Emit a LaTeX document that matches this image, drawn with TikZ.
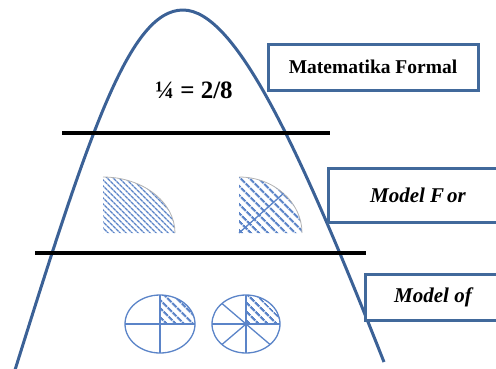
\documentclass[tikz,border=0pt]{standalone}
\usepackage{fontspec}
\setmainfont{Liberation Serif}
\usetikzlibrary{patterns.meta}
\definecolor{curveblue}{HTML}{3B6196}
\definecolor{boxblue}{HTML}{41699B}
\definecolor{partblue}{HTML}{5B84C8}
\tikzset{
  levelbox/.style={draw=boxblue, line width=3pt, fill=white, inner sep=0pt, minimum height=46pt, font=\fontsize{19.5}{22}\selectfont\bfseries},
  partline/.style={draw=partblue, line width=1.3pt},
  fine hatch/.style={pattern={Lines[angle=-45, distance=4pt, line width=1.4pt]}, pattern color=partblue},
  coarse hatch/.style={pattern={Lines[angle=-45, distance=6.5pt, line width=2.4pt]}, pattern color=partblue}
}
\begin{document}
\begin{tikzpicture}[x=1pt, y=-1pt]
\useasboundingbox (0,0) rectangle (496,368);
\clip (0,0) rectangle (496,368);
% bell curve
\draw[curveblue, line width=3pt] (15,370) .. controls (90,130) and (130,10) .. (183,10)
  .. controls (236,10) and (300,150) .. (384,362);
% level separators
\draw[black, line width=3.5pt] (62,133) -- (330,133);
\draw[black, line width=3.5pt] (35,253) -- (366,253);
% level labels
\node[levelbox, minimum width=210pt] (formal) at (373,67) {Matematika Formal};
\node[levelbox, minimum width=180pt, minimum height=54pt, font=\fontsize{21}{24}\selectfont\bfseries\itshape] (modelfor) at (418,195) {Model F\hspace{3pt}or};
\node[levelbox, minimum width=136pt, font=\fontsize{21}{24}\selectfont\bfseries\itshape] (modelof) at (433,297) {Model of};
% formal level
\node[font=\fontsize{25}{28}\selectfont\bfseries] (frac) at (194,90) {¼ = 2/8};
% model for: quarter regions
\fill[fine hatch] (103,233) -- (175,233) arc[start angle=0, end angle=-90, x radius=72, y radius=56] -- cycle;
\draw[gray!60, line width=0.8pt] (175,233) arc[start angle=0, end angle=-90, x radius=72, y radius=56];
\fill[coarse hatch] (239,233) -- (302,233) arc[start angle=0, end angle=-90, x radius=63, y radius=56] -- cycle;
\draw[gray!60, line width=0.8pt] (302,233) arc[start angle=0, end angle=-90, x radius=63, y radius=56];
\draw[partline] (239,233) -- ({239+63*cos(45)},{233-56*sin(45)});
% model of: circles
\fill[coarse hatch] (160,324) -- (195,324) arc[start angle=0, end angle=-90, x radius=35, y radius=29] -- cycle;
\draw[partline] (160,324) ellipse[x radius=35, y radius=29];
\draw[partline] (160,295) -- (160,353);
\draw[partline] (125,324) -- (195,324);
\fill[coarse hatch] (246,324) -- (280,324) arc[start angle=0, end angle=-90, x radius=34, y radius=29] -- cycle;
\draw[partline] (246,324) ellipse[x radius=34, y radius=29];
\foreach \a in {0,45,90,135,180,225,270}
  \draw[partline] (246,324) -- ({246+34*cos(\a)},{324+29*sin(\a)});
\end{tikzpicture}
\end{document}
